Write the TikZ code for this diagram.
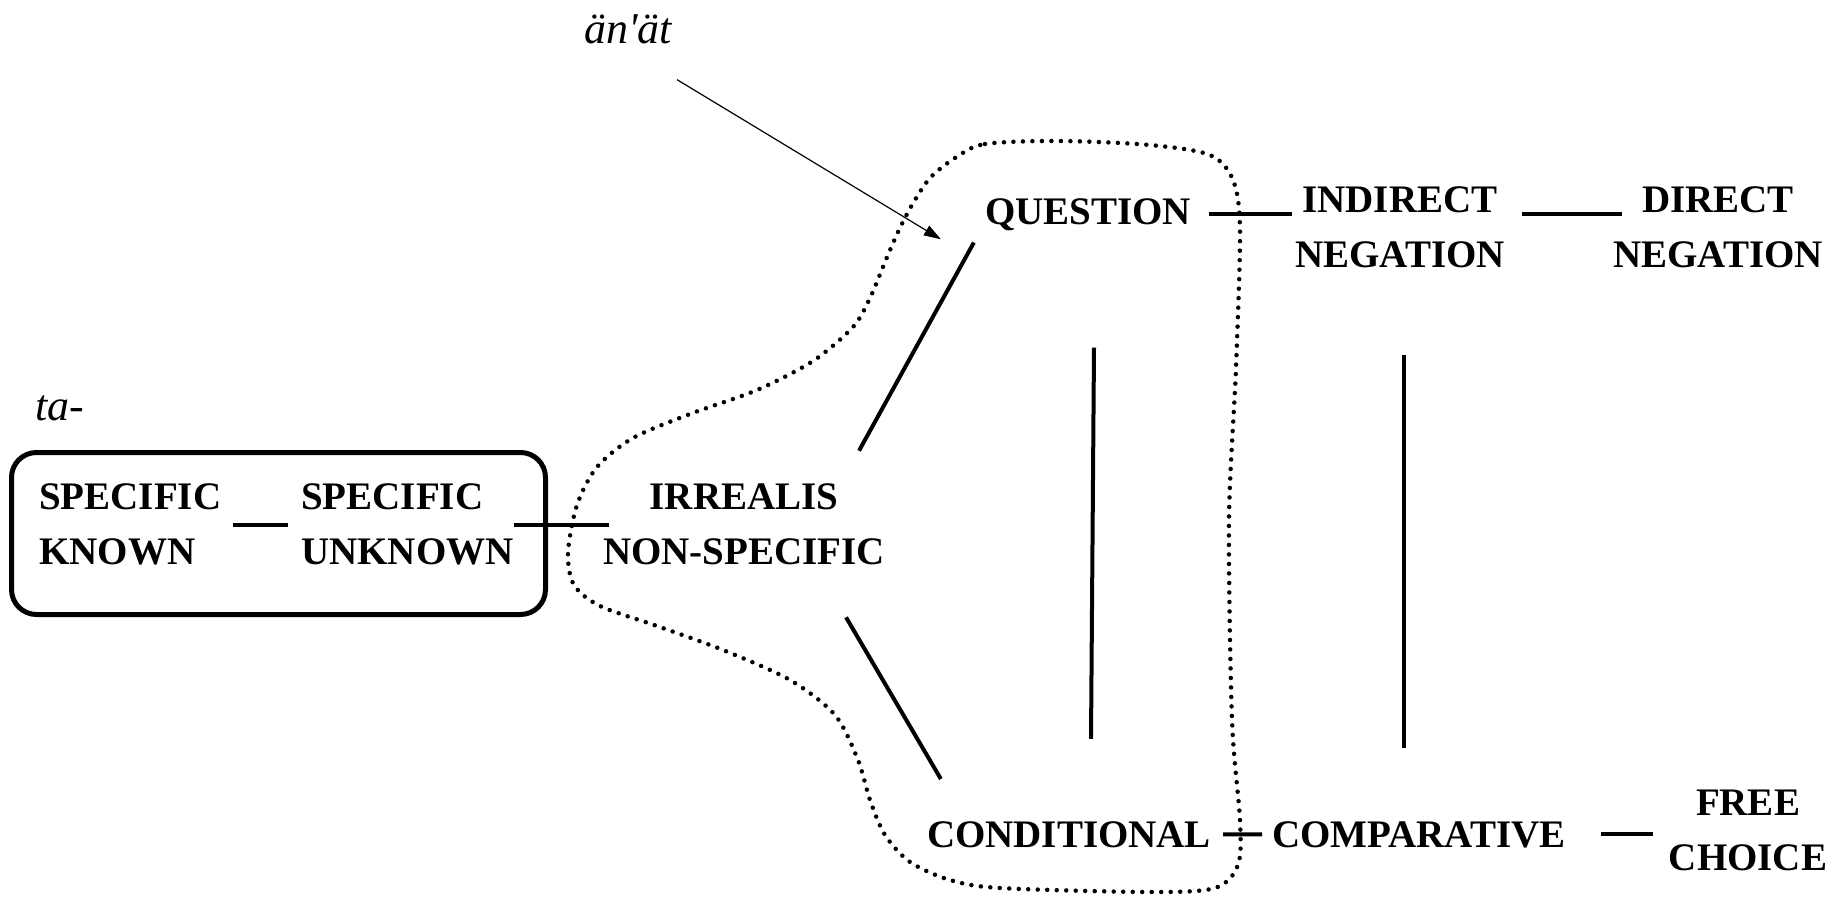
\documentclass[tikz,border=0pt]{standalone}
\usepackage{fontspec}
\setmainfont{Liberation Serif}
\usetikzlibrary{arrows.meta,positioning,calc}

\begin{document}
\begin{tikzpicture}[
    x=1pt, y=-1pt,
    lbl/.style={font=\fontsize{39}{55}\selectfont\bfseries, inner sep=0pt, align=center},
    lbll/.style={lbl, align=left},
    ital/.style={font=\fontsize{44}{50}\selectfont\itshape, inner sep=0pt},
    link/.style={line width=4pt},
    blob/.style={line width=4.5pt, line cap=round, dash pattern=on 0pt off 9.5pt},
    arr/.style={-{Triangle[length=17pt,width=11pt]}, line width=1.2pt},
  ]
  \useasboundingbox (0,0) rectangle (1845,902);

  % the ta- group
  \node[ital, anchor=base west] (ta) at (35,420) {ta-};
  \node[lbll, anchor=west] (sk) at (39,524.5) {SPECIFIC\\KNOWN};
  \node[lbll, anchor=west] (su) at (301,524.5) {SPECIFIC\\UNKNOWN};
  \node[draw, rounded corners=25pt, line width=5pt, minimum width=534pt,
    minimum height=162pt, inner sep=0pt] (tabox) at (278.5,533.5) {};
  \draw[link, shorten <=12pt, shorten >=13pt] (sk) -- (su);

  % the middle and the upper row
  \node[lbl] (irr) at (744,524.5) {IRREALIS\\NON-SPECIFIC};
  \node[lbl, anchor=base] (q) at (1088,224) {QUESTION};
  \node[lbl] (ind) at (1400,227.5) {INDIRECT\\NEGATION};
  \node[lbl] (dir) at (1718,227.5) {DIRECT\\NEGATION};
  \draw[link, shorten >=-6pt] (su) -- (irr);
  \draw[link, shorten <=18pt, shorten >=3pt] (q.east) -- (q.east -| ind.west);
  \draw[link, shorten <=17pt, shorten >=-9pt] (ind.east |- q.east) -- (dir.west |- q.east);

  % lower row
  \node[lbl, anchor=base] (cond) at (1069,847) {CONDITIONAL};
  \node[lbl, anchor=base] (comp) at (1419,847) {COMPARATIVE};
  \node[lbl] (free) at (1748,830) {FREE\\CHOICE};
  \draw[link, shorten <=12pt, shorten >=10pt] (cond) -- (comp);
  \draw[link, shorten <=35pt, shorten >=16pt] (comp.east) -- (comp.east -| free.west);

  % slanted and vertical links
  \draw[link] ($(irr.north east)+(-26,-33)$) -- ($(q.south west)+(-11,12)$);
  \draw[link] ($(irr.south east)+(-39,52)$) -- ($(cond.north west)+(14,-42)$);
  \draw[link] ($(q.south)+(6,117)$) -- ($(cond.north)+(22,-82)$);
  \draw[link] ($(ind.south)+(4,87)$) -- ($(comp.north)+(-15,-73)$);

  % domain of an'at
  \draw[blob] plot[smooth cycle] coordinates {
    (955,158) (985,144) (1060,141) (1150,145) (1210,155) (1233,180)
    (1240,230) (1236,368) (1229,520) (1232,720) (1240,820) (1238,865)
    (1215,888) (1150,892) (1000,888) (950,880) (910,862) (885,835)
    (870,800) (858,760) (835,715) (790,680) (723,650) (657,626)
    (600,606) (574,585) (568,553) (577,505) (597,467) (633,438)
    (690,414) (757,390) (813,361) (853,327) (870,298) (885,262)
    (898,232) (912,205) (930,178)};
  \node[ital, anchor=base] (anat) at (628,43) {än\textquotesingle ät};
  \draw[arr] ($(anat.south east)+(5,36)$) -- ($(q.west)+(-44,25)$);
\end{tikzpicture}
\end{document}
